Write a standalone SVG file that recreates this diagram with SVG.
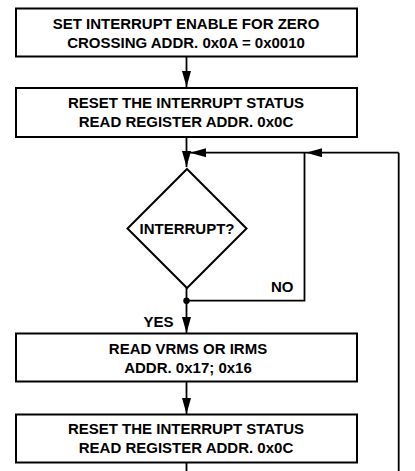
<svg xmlns="http://www.w3.org/2000/svg" width="415" height="471" viewBox="0 0 415 471">
<style>
.box{fill:#fff;stroke:#000;stroke-width:2}
.t{font-family:"Liberation Sans",Arial,Helvetica,sans-serif;font-weight:bold;font-size:15px;fill:#000;text-anchor:middle}
.lbl{font-family:"Liberation Sans",Arial,Helvetica,sans-serif;font-weight:bold;font-size:15px;fill:#000;text-anchor:end}
.ln{fill:none;stroke:#000;stroke-width:1.8}
</style>
<defs>
<marker id="ah" markerWidth="16" markerHeight="9" refX="16" refY="4.5" orient="auto" markerUnits="userSpaceOnUse">
<path d="M0,0 L16,4.5 L0,9 Z" fill="#000"/>
</marker>
</defs>
<rect width="415" height="471" fill="#fff"/>
<g id="connectors">
<line class="ln" x1="186.5" y1="57" x2="186.5" y2="87" marker-end="url(#ah)"/>
<line class="ln" x1="186.5" y1="137" x2="186.5" y2="167" marker-end="url(#ah)"/>
<line class="ln" x1="398.7" y1="471" x2="398.7" y2="152.7"/>
<line class="ln" x1="398.7" y1="152.7" x2="306" y2="152.7" marker-end="url(#ah)"/>
<line class="ln" x1="306" y1="152.7" x2="190" y2="152.7" marker-end="url(#ah)"/>
<polyline class="ln" points="186.5,300.7 304.5,300.7 304.5,152.7"/>
<line class="ln" x1="186.5" y1="287" x2="186.5" y2="333" marker-end="url(#ah)"/>
<circle cx="186.5" cy="300.7" r="3.2" fill="#000"/>
<line class="ln" x1="186.5" y1="382" x2="186.5" y2="414" marker-end="url(#ah)"/>
<line class="ln" x1="186.5" y1="463" x2="186.5" y2="471"/>
<text class="lbl" x="293.5" y="292.3">NO</text>
<text class="lbl" x="173.5" y="326.7">YES</text>
</g>
<g id="n1">
<rect class="box" x="16" y="8.5" width="341" height="48"/>
<text class="t" x="186" y="28.5">SET INTERRUPT ENABLE FOR ZERO</text>
<text class="t" x="186" y="47.5">CROSSING ADDR. 0x0A = 0x0010</text>
</g>
<g id="n2">
<rect class="box" x="16" y="88" width="341" height="49"/>
<text class="t" x="186" y="107.5">RESET THE INTERRUPT STATUS</text>
<text class="t" x="186" y="126.5">READ REGISTER ADDR. 0x0C</text>
</g>
<g id="n3">
<polygon class="box" points="187,169 246.5,228.5 187,288 127.5,228.5"/>
<text class="t" x="187" y="233.5">INTERRUPT?</text>
</g>
<g id="n4">
<rect class="box" x="16" y="333.5" width="341" height="48"/>
<text class="t" x="188" y="353.5">READ VRMS OR IRMS</text>
<text class="t" x="188" y="372.5">ADDR. 0x17; 0x16</text>
</g>
<g id="n5">
<rect class="box" x="16" y="414.5" width="341" height="48"/>
<text class="t" x="186" y="434">RESET THE INTERRUPT STATUS</text>
<text class="t" x="186" y="453">READ REGISTER ADDR. 0x0C</text>
</g>
</svg>
